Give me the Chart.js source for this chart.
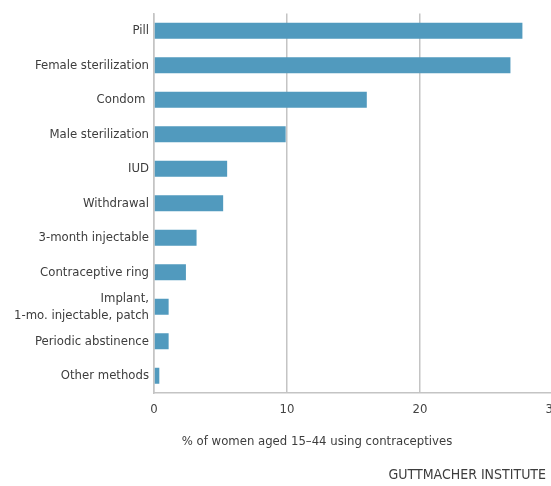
<!DOCTYPE html>
<html>
<head>
<meta charset="utf-8">
<script src="https://cdn.jsdelivr.net/npm/chart.js@4"></script>
<style>
  html, body { margin: 0; padding: 0; background: #fff; overflow: hidden; }
  #wrap { width: 572px; height: 486px; }
</style>
</head>
<body>
<div id="wrap"><canvas id="methods" width="572" height="486"></canvas></div>
<script>
let methods = ["Pill", "Female sterilization", "Condom ", "Male sterilization", "IUD", "Withdrawal",
  "3-month injectable", "Contraceptive ring", ["Implant,", "1-mo. injectable, patch"],
  "Periodic abstinence", "Other methods"];
let shares = [27.7, 26.8, 16.0, 9.9, 5.5, 5.2, 3.2, 2.4, 1.1, 1.1, 0.4];
let xTicks = [0, 10, 20, 30];

const family = "'Liberation Sans Narrow', 'DejaVu Sans Condensed', sans-serif";
const labelFont = { family: family, size: 13, lineHeight: 1.3 };

// axis title and source line, placed like the original figure
const notes = {
  id: 'notes',
  afterDraw(chart) {
    const ctx = chart.ctx;
    ctx.save();
    ctx.fillStyle = '#3d3d3d';
    ctx.font = "13px " + family;
    ctx.textAlign = 'center';
    ctx.textBaseline = 'middle';
    ctx.fillText('% of women aged 15\u201344 using contraceptives', 317, 442);
    ctx.font = "14px " + family;
    ctx.textAlign = 'right';
    ctx.fillText('GUTTMACHER INSTITUTE', 546, 475);
    ctx.restore();
  }
};

new Chart(document.getElementById("methods"), {
  type: 'bar',
  data: {
    labels: methods,
    datasets: [{
      label: "% of women",
      data: shares,
      backgroundColor: "#519abe",
      borderWidth: 0,
      barPercentage: 0.46,
      categoryPercentage: 1
    }]
  },
  options: {
    indexAxis: 'y',
    responsive: false,
    animation: false,
    devicePixelRatio: 1,
    layout: { padding: { top: 8, right: 19, left: 0, bottom: 0 } },
    plugins: { legend: { display: false }, tooltip: { enabled: false } },
    scales: {
      x: {
        min: 0,
        max: 30,
        afterBuildTicks: s => { s.ticks = xTicks.map(v => ({ value: v })); },
        afterFit: s => { s.height = 93; },
        grid: { color: '#c4c4c4', lineWidth: 1.5, drawTicks: false },
        border: { color: '#c4c4c4', width: 1.5 },
        ticks: { color: '#444', font: labelFont, padding: 8 }
      },
      y: {
        afterFit: s => { s.width = 154; },
        grid: { display: false, drawTicks: false },
        border: { color: '#c4c4c4', width: 1.5 },
        ticks: { color: '#3d3d3d', font: labelFont, padding: 5, autoSkip: false }
      }
    }
  },
  plugins: [notes]
});
</script>
</body>
</html>
